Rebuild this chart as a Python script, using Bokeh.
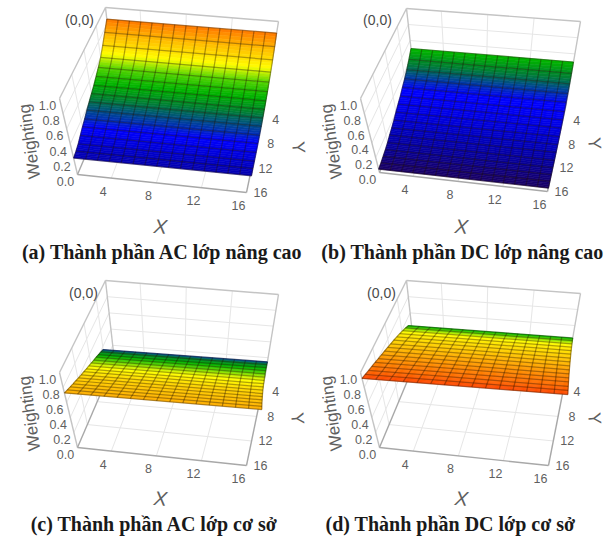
from bokeh.plotting import figure
from bokeh.models import Range1d, ColumnDataSource
from bokeh.core.properties import value
from bokeh.embed import file_html
from bokeh.resources import INLINE
import numpy as np

# ---------- data ----------
x_nodes = list(range(1, 17))
y_nodes = list(range(1, 17))
x_ticks = [4, 8, 12, 16]
y_ticks = [4, 8, 12, 16]
z_ticks = [0.0, 0.2, 0.4, 0.6, 0.8, 1.0]

# Weighting of each row (Y = 1 .. 16)
weight_ac_enh = [.855, .763, .675, .60, .55, .51, .47, .44, .41, .38, .345, .316, .283, .25, .23, .216]
weight_dc_enh = [.50, .435, .38, .335, .30, .26, .233, .203, .17, .145, .123, .098, .08, .067, .054, .045]
weight_ac_base = [.148, .19, .23, .27, .307, .345, .383, .42, .458, .495, .532, .572, .61, .649, .688, .727]
weight_dc_base = [.444, .488, .527, .564, .598, .632, .663, .693, .724, .752, .781, .811, .839, .865, .894, .921]

# Colour level of each row on the shared colour ramp
level_ac_enh = [.88, .80, .73, .66, .60, .55, .51, .47, .43, .39, .35, .30, .26, .22, .18, .15]
level_dc_enh = [.53, .47, .42, .36, .31, .29, .27, .25, .22, .19, .16, .13, .10, .07, .04, .02]
level_ac_base = [.36, .45, .50, .55, .60, .64, .67, .69, .71, .73, .75, .76, .77, .78, .79, .80]
level_dc_base = [.50, .60, .66, .70, .72, .74, .76, .78, .80, .82, .84, .86, .88, .90, .93, .96]

captions = ["(a) Thành phần AC lớp nâng cao", "(b) Thành phần DC lớp nâng cao",
            "(c) Thành phần AC lớp cơ sở", "(d) Thành phần DC lớp cơ sở"]
axis_z_title = "Weighting"
axis_x_title = "X"
axis_y_title = "Y"
origin_note = "(0,0)"

# ---------- colour ramp ----------
ramp_at = [0, .10, .20, .30, .38, .45, .52, .60, .68, .78, .88, 1.0]
ramp_r = [30, 10, 0, 0, 0, 0, 0, 90, 255, 255, 255, 255]
ramp_g = [0, 0, 0, 0, 70, 130, 180, 215, 255, 190, 120, 50]
ramp_b = [90, 150, 200, 255, 150, 50, 0, 0, 0, 0, 0, 0]

def colour(level):
    return "#%02x%02x%02x" % (int(np.interp(level, ramp_at, ramp_r)),
                              int(np.interp(level, ramp_at, ramp_g)),
                              int(np.interp(level, ramp_at, ramp_b)))

# ---------- view of each panel: projected corners of the 3-D box ----------
views = [
    dict(TBL=(105, 7), TBR=(278, 21), TFL=(59, 98), TFR=(269, 115),
         BBL=(114, 87), BBR=(265, 101), BFL=(77, 174), BFR=(246, 192),
         warp=0, note=(79, 19), ztitle=(29, 141), xtitle=(160, 226), ytitle=(298, 147), cap=(162, 251)),
    dict(TBL=(406, 8), TBR=(580, 21), TFL=(360, 98), TFR=(568, 116),
         BBL=(415, 88), BBR=(566, 102), BFL=(379, 172), BFR=(547, 191),
         warp=0, note=(377, 19), ztitle=(331, 141), xtitle=(461, 226), ytitle=(594, 143), cap=(462, 251)),
    dict(TBL=(105, 280), TBR=(278, 294), TFL=(59, 372), TFR=(267, 388),
         BBL=(114, 361), BBR=(265, 373), BFL=(77, 447), BFR=(246, 465),
         warp=-10, note=(83, 292), ztitle=(29, 413), xtitle=(160, 498), ytitle=(297, 418), cap=(154, 523)),
    dict(TBL=(406, 280), TBR=(580, 293), TFL=(360, 372), TFR=(569, 388),
         BBL=(415, 361), BBR=(566, 373), BFL=(379, 447), BFR=(548, 465),
         warp=-3, note=(381, 292), ztitle=(331, 413), xtitle=(461, 498), ytitle=(594, 418), cap=(450, 523)),
]
weights = [weight_ac_enh, weight_dc_enh, weight_ac_base, weight_dc_base]
levels = [level_ac_enh, level_dc_enh, level_ac_base, level_dc_base]

def project(v, x, y, z):
    u = (x - 1) / 15
    t = (y - 1) / 15
    def side(a, b, c, d):
        a, b, c, d = map(np.array, (v[a], v[b], v[c], v[d]))
        back = a * (1 - u) + b * u
        front = c * (1 - u) + d * u
        return back * (1 - t) + front * t
    top = side("TBL", "TBR", "TFL", "TFR")
    bot = side("BBL", "BBR", "BFL", "BFR")
    return top * z + bot * (1 - z)

def surface(v, x, y, z):
    px, py = project(v, x, y, z)
    return px + v["warp"] * (1 - (y - 1) / 15) * (1 - (x - 1) / 15), py

W, H = 606, 538
p = figure(width=W, height=H, x_range=Range1d(0, W), y_range=Range1d(H, 0),
           output_backend="svg", toolbar_location=None, min_border=0)
p.axis.visible = False
p.grid.visible = False
p.outline_line_color = None
p.background_fill_color = "white"
p.border_fill_color = "white"

GRID = "#e6e6e6"
EDGE = "#c4c4c4"
FLOOR = "#a8a8a8"
TEXT = "#5f5f5f"

for v, zs, ls, cap in zip(views, weights, levels, captions):
    gx, gy, ex, ey = [], [], [], []
    def seg(store_x, store_y, a, b):
        store_x.append([a[0], b[0]])
        store_y.append([a[1], b[1]])
    xlo, xhi = x_nodes[0], x_nodes[-1]
    ylo, yhi = y_nodes[0], y_nodes[-1]
    for xv in x_ticks[:-1]:
        seg(gx, gy, project(v, xv, ylo, 0), project(v, xv, ylo, 1))
        seg(gx, gy, project(v, xv, ylo, 0), project(v, xv, yhi, 0))
    for yv in y_ticks[:-1]:
        seg(gx, gy, project(v, xlo, yv, 0), project(v, xlo, yv, 1))
        seg(gx, gy, project(v, xlo, yv, 0), project(v, xhi, yv, 0))
    for zv in z_ticks[1:-1]:
        seg(gx, gy, project(v, xlo, yhi, zv), project(v, xlo, ylo, zv))
        seg(gx, gy, project(v, xlo, ylo, zv), project(v, xhi, ylo, zv))
    p.multi_line(gx, gy, line_color=GRID, line_width=1)

    for a, b in [((xlo, ylo, 1), (xhi, ylo, 1)), ((xlo, ylo, 1), (xlo, ylo, 0)),
                 ((xhi, ylo, 1), (xhi, ylo, 0)), ((xlo, ylo, 1), (xlo, yhi, 1)),
                 ((xlo, yhi, 1), (xlo, yhi, 0))]:
        seg(ex, ey, project(v, *a), project(v, *b))
    p.multi_line(ex, ey, line_color=EDGE, line_width=1.4)
    fx, fy = [], []
    for a, b in [((xlo, yhi, 0), (xhi, yhi, 0)), ((xhi, yhi, 0), (xhi, ylo, 0)),
                 ((xlo, yhi, 0), (xlo, ylo, 0))]:
        seg(fx, fy, project(v, *a), project(v, *b))
    p.multi_line(fx, fy, line_color=FLOOR, line_width=1.4)

    sx, sy, sc = [], [], []
    for i in range(len(y_nodes) - 1):
        for k in range(4):
            f0, f1 = k / 4, (k + 1) / 4
            y0 = y_nodes[i] + f0
            y1 = y_nodes[i] + f1
            z0 = zs[i] + (zs[i + 1] - zs[i]) * f0
            z1 = zs[i] + (zs[i + 1] - zs[i]) * f1
            lv = ls[i] + (ls[i + 1] - ls[i]) * (f0 + f1) / 2
            a = surface(v, xlo, y0, z0)
            b = surface(v, xhi, y0, z0)
            c = surface(v, xhi, y1, z1)
            d = surface(v, xlo, y1, z1)
            sx.append([a[0], b[0], c[0], d[0]])
            sy.append([a[1], b[1], c[1], d[1]])
            sc.append(colour(lv))
    p.patches("x", "y", fill_color="c", line_color="c", line_width=0.6,
              source=ColumnDataSource(dict(x=sx, y=sy, c=sc)))

    mx, my = [], []
    for j, yv in enumerate(y_nodes):
        a = surface(v, xlo, yv, zs[j])
        b = surface(v, xhi, yv, zs[j])
        seg(mx, my, a, b)
    for xv in x_nodes:
        pts = [surface(v, xv, yv, zs[j]) for j, yv in enumerate(y_nodes)]
        mx.append([q[0] for q in pts])
        my.append([q[1] for q in pts])
    p.multi_line(mx, my, line_color="#201000", line_alpha=0.36, line_width=1.25)

    tx, ty, tt = [], [], []
    for xv in x_ticks:
        q = project(v, xv, yhi, 0)
        tx.append(q[0] - 8); ty.append(q[1] + 13); tt.append(str(xv))
    for yv in y_ticks:
        q = project(v, xhi, yv, 0)
        tx.append(q[0] + 14); ty.append(q[1]); tt.append(str(yv))
    for zv in z_ticks:
        q = project(v, xlo, yhi, zv)
        tx.append(q[0] - 12); ty.append(q[1] + 7); tt.append("%.1f" % zv)
    p.text(tx, ty, text=tt, text_font=value("Liberation Sans"), text_font_size="12.5px",
           text_color=TEXT, text_align="center", text_baseline="middle")

    def label(pos, s, size, colour_, font="Liberation Sans", angle=0.0, style="normal"):
        p.text([pos[0]], [pos[1]], text=[s], text_font=value(font), text_font_size=size,
               text_color=colour_, text_align="center", text_baseline="middle",
               angle=angle, text_font_style=style)

    label(v["note"], origin_note, "14px", "#4a4a4a")
    label(v["ztitle"], axis_z_title, "17px", TEXT, angle=np.radians(98))
    label(v["xtitle"], axis_x_title, "20px", TEXT, angle=np.radians(-4), style="italic")
    label(v["ytitle"], axis_y_title, "18px", TEXT, angle=np.radians(-85))
    label(v["cap"], cap, "20px", "#1a1a1a", font="Liberation Serif", style="bold")

open("out.html", "w").write(file_html(p, INLINE))
